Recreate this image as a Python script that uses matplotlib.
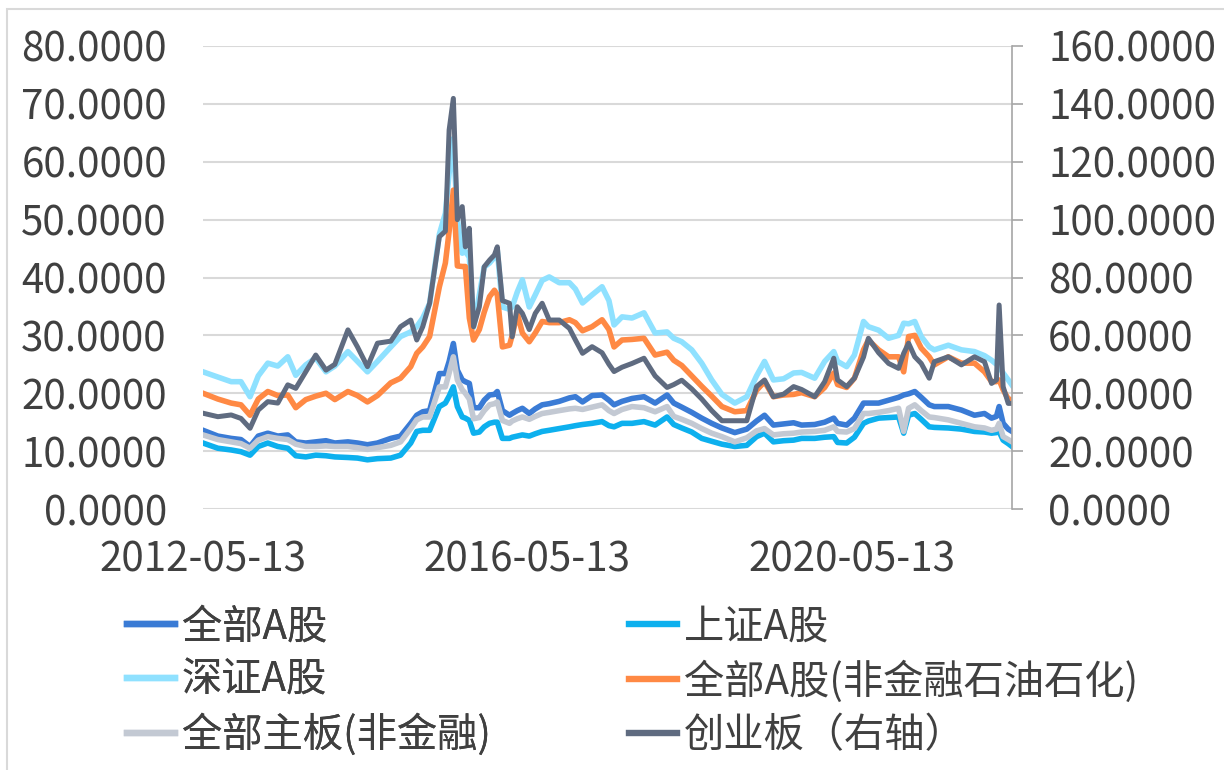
import matplotlib.pyplot as plt
import matplotlib.patches as mpatches
import pandas as pd

plt.rcParams['font.family'] = ['Noto Sans CJK SC', 'DejaVu Sans']

# sample dates
dates = ['2012-05-13', '2012-07-19', '2012-09-17', '2012-10-31', '2012-12-11',
         '2013-01-17', '2013-03-01', '2013-04-15', '2013-05-30', '2013-07-05',
         '2013-08-19', '2013-10-03', '2013-11-18', '2013-12-28', '2014-02-25',
         '2014-04-09', '2014-05-24', '2014-07-08', '2014-09-06', '2014-10-20',
         '2014-12-05', '2015-01-01', '2015-01-28', '2015-02-28', '2015-04-13',
         '2015-05-10', '2015-05-27', '2015-06-15', '2015-07-03', '2015-07-25',
         '2015-08-08', '2015-08-26', '2015-09-14', '2015-10-10', '2015-11-01',
         '2015-11-25', '2015-12-17', '2015-12-30', '2016-01-22', '2016-02-23',
         '2016-03-06', '2016-03-29', '2016-04-21', '2016-05-22', '2016-06-18',
         '2016-07-19', '2016-08-20', '2016-10-04', '2016-11-19', '2016-12-16',
         '2017-01-17', '2017-03-01', '2017-04-15', '2017-05-16', '2017-06-08',
         '2017-07-14', '2017-08-28', '2017-10-21', '2017-12-10', '2018-02-02',
         '2018-03-04', '2018-04-09', '2018-05-24', '2018-07-08', '2018-08-22',
         '2018-10-07', '2018-12-04', '2019-01-27', '2019-03-12', '2019-04-17',
         '2019-05-27', '2019-07-12', '2019-08-26', '2019-10-01', '2019-11-29',
         '2020-01-13', '2020-02-23', '2020-03-11', '2020-04-21', '2020-05-26',
         '2020-07-06', '2020-07-28', '2020-09-12', '2020-10-27', '2020-12-11',
         '2021-01-03', '2021-01-25', '2021-02-22', '2021-03-23', '2021-04-28',
         '2021-05-21', '2021-07-23', '2021-09-20', '2021-11-18', '2022-01-02',
         '2022-02-03', '2022-02-25', '2022-03-09', '2022-03-27', '2022-04-19',
         '2022-05-06']

all_a = [13.6, 12.6, 12.2, 12.0, 10.8, 12.6, 13.1, 12.6, 12.8, 11.6,
         11.4, 11.6, 11.8, 11.4, 11.6, 11.4, 11.1, 11.4, 12.2, 12.6,
         14.8, 16.2, 16.8, 17.0, 23.4, 23.4, 25.5, 28.6, 24.0, 22.3,
         22.0, 21.7, 17.5, 17.5, 18.8, 19.7, 19.8, 20.3, 17.0, 16.2,
         16.5, 17.0, 17.4, 16.5, 17.3, 18.0, 18.2, 18.6, 19.2, 19.4,
         18.5, 19.6, 19.7, 18.8, 18.0, 18.6, 19.1, 19.4, 18.3, 19.7,
         18.3, 17.6, 16.7, 15.7, 14.8, 14.0, 13.2, 13.8, 15.2, 16.2,
         14.5, 14.7, 14.9, 14.5, 14.6, 15.0, 15.7, 14.8, 14.5, 15.7,
         18.3, 18.3, 18.3, 18.8, 19.3, 19.7, 19.9, 20.3, 19.3, 18.0,
         17.7, 17.7, 17.1, 16.2, 16.5, 15.7, 16.0, 17.7, 14.8, 13.8,
         13.4]

sh_a = [11.4, 10.5, 10.2, 9.9, 9.3, 10.8, 11.4, 10.8, 10.5, 9.2,
        9.0, 9.3, 9.2, 9.0, 8.9, 8.8, 8.5, 8.7, 8.8, 9.3,
        11.4, 13.4, 13.6, 13.6, 17.7, 18.3, 19.5, 21.1, 17.7, 15.9,
        15.7, 15.3, 13.1, 13.3, 14.2, 14.8, 15.0, 15.0, 12.2, 12.2,
        12.4, 12.6, 12.8, 12.6, 13.0, 13.4, 13.6, 13.9, 14.2, 14.4,
        14.6, 14.8, 15.1, 14.4, 14.2, 14.8, 14.8, 15.1, 14.5, 15.9,
        14.6, 14.0, 13.3, 12.2, 11.7, 11.2, 10.8, 11.0, 12.5, 13.1,
        11.6, 11.8, 11.9, 12.2, 12.2, 12.4, 12.5, 11.5, 11.4, 12.4,
        14.8, 15.2, 15.7, 15.8, 15.9, 13.1, 16.2, 16.5, 15.5, 14.2,
        14.1, 14.0, 13.8, 13.4, 13.3, 13.1, 13.2, 13.4, 11.9, 11.3,
        10.8]

sz_a = [23.7, 22.8, 22.0, 22.0, 19.4, 23.0, 25.2, 24.7, 26.3, 23.1,
        24.9, 26.1, 23.7, 24.7, 27.2, 25.5, 23.7, 25.5, 28.0, 29.8,
        30.6, 31.5, 33.0, 35.5, 47.5, 51.1, 58.0, 64.0, 50.0, 44.2,
        44.5, 43.5, 31.4, 37.0, 41.8, 42.5, 43.5, 44.7, 34.9, 34.5,
        34.9, 37.5, 39.6, 34.9, 37.0, 39.5, 40.1, 39.1, 39.1, 38.0,
        35.6, 37.0, 38.4, 36.0, 31.8, 33.2, 33.0, 33.9, 30.4, 30.6,
        29.5, 28.9, 27.5, 25.2, 22.3, 19.8, 18.3, 19.4, 23.0, 25.5,
        22.3, 22.5, 23.5, 23.6, 22.6, 25.5, 27.2, 25.5, 24.6, 26.6,
        32.4, 31.5, 30.9, 29.5, 30.0, 32.1, 32.0, 32.4, 29.8, 28.0,
        27.5, 28.3, 27.5, 27.2, 26.5, 25.7, 25.0, 24.6, 23.5, 22.3,
        21.4]

non_fin_oil = [20.0, 19.0, 18.3, 18.0, 16.2, 19.0, 20.3, 19.6, 19.7, 17.5,
               18.9, 19.5, 20.0, 18.9, 20.3, 19.6, 18.5, 19.6, 21.8, 22.6,
               24.6, 26.9, 28.0, 29.8, 38.4, 42.5, 48.0, 55.1, 42.0, 41.9,
               41.9, 33.0, 29.2, 31.0, 34.0, 36.7, 37.8, 37.0, 28.0, 28.3,
               30.0, 33.8, 30.4, 28.9, 30.4, 32.4, 32.2, 32.2, 32.7, 32.2,
               30.8, 31.5, 32.7, 31.0, 28.0, 29.2, 29.3, 29.5, 26.6, 27.1,
               25.7, 24.8, 23.0, 21.2, 19.5, 17.7, 16.8, 17.0, 20.5, 22.0,
               19.4, 19.7, 19.8, 20.1, 19.4, 21.0, 23.5, 21.5, 21.0, 22.6,
               27.5, 29.2, 27.5, 26.3, 26.3, 23.7, 29.8, 30.0, 27.8, 26.3,
               24.9, 26.3, 25.2, 25.2, 23.7, 22.0, 22.0, 22.3, 20.6, 19.0,
               18.9]

main_non_fin = [12.8, 12.0, 11.6, 11.3, 10.5, 11.9, 12.5, 12.2, 12.0, 11.2,
                10.8, 10.8, 10.9, 10.8, 10.8, 10.6, 10.3, 10.6, 11.0, 11.6,
                13.9, 15.4, 15.9, 15.9, 21.1, 21.1, 23.5, 26.3, 22.3, 20.6,
                20.0, 19.0, 15.6, 15.8, 17.0, 18.0, 18.2, 18.5, 15.3, 14.8,
                15.2, 15.6, 15.9, 15.5, 16.0, 16.5, 16.7, 17.0, 17.3, 17.4,
                17.2, 17.6, 18.0, 17.0, 16.5, 17.2, 17.7, 17.5, 16.8, 17.7,
                16.0, 15.5, 14.8, 13.9, 13.1, 12.5, 11.6, 12.3, 13.5, 13.9,
                12.8, 13.0, 13.1, 13.3, 13.4, 13.6, 14.2, 13.4, 13.3, 13.9,
                16.5, 16.5, 16.7, 17.0, 17.4, 13.4, 17.4, 18.0, 17.0, 15.9,
                15.8, 15.4, 14.8, 14.2, 14.0, 13.6, 13.8, 14.8, 12.5, 12.0,
                11.6]

# ChiNext, right axis
chinext = [33.1, 31.9, 32.5, 31.3, 27.9, 34.2, 37.1, 36.6, 42.9, 41.7,
           47.4, 53.2, 48.0, 50.0, 61.9, 56.0, 49.2, 57.3, 58.0, 63.0,
           65.3, 58.4, 63.0, 71.1, 94.1, 96.0, 131.0, 141.9, 100.0, 104.5,
           90.6, 97.0, 63.0, 69.9, 83.7, 86.0, 87.8, 90.6, 72.0, 71.1,
           59.5, 69.9, 67.6, 62.0, 67.6, 71.1, 65.3, 65.3, 62.4, 58.4,
           53.8, 56.1, 54.0, 50.0, 47.5, 49.0, 50.3, 52.1, 46.0, 42.0,
           43.0, 44.5, 41.5, 38.0, 34.0, 30.5, 30.5, 30.5, 42.3, 44.6,
           38.8, 39.7, 42.3, 41.3, 38.8, 44.0, 52.1, 44.6, 42.3, 45.2,
           52.5, 59.0, 54.0, 50.3, 48.6, 53.8, 57.3, 52.6, 50.3, 45.2,
           50.9, 52.6, 49.8, 52.6, 50.9, 43.4, 44.6, 70.5, 42.3, 36.5,
           36.5]

labels = ['全部A股', '上证A股', '深证A股', '全部A股(非金融石油石化)',
          '全部主板(非金融)', '创业板（右轴）']
colors = ['#3A7BD5', '#0DB0EE', '#8FE1FF', '#FF8944', '#C3C9D3', '#5F6B80']
xticks = ['2012-05-13', '2016-05-13', '2020-05-13']

x = pd.to_datetime(dates)
txt = '#404040'
fs = 29

fig = plt.figure(figsize=(12.24, 7.70), dpi=100)
ax = fig.add_axes([203/1224, 1-509/770, (1012-203)/1224, (509-46)/770])
ax2 = ax.twinx()

lines = []
for vals, c, lab in zip([all_a, sh_a, sz_a, non_fin_oil, main_non_fin], colors[:5], labels[:5]):
    l, = ax.plot(x, vals, color=c, lw=4.0, label=lab, solid_joinstyle='round')
    lines.append(l)
l, = ax2.plot(x, chinext, color=colors[5], lw=3.6, label=labels[5], solid_joinstyle='round')
lines.append(l)

ax.set_xlim(x[0], x[-1])
ax.set_ylim(0, 80)
ax.set_yticks(range(0, 81, 10))
ax.set_yticklabels(['%.4f' % v for v in range(0, 81, 10)], fontsize=fs, color=txt)
ax.tick_params(axis='y', length=0, pad=26)
ax.grid(axis='y', color='#D9D9D9', lw=1.5)
ax.set_axisbelow(True)
ax.set_xticks(pd.to_datetime(xticks))
ax.set_xticklabels(xticks, fontsize=fs, color=txt)
ax.tick_params(axis='x', length=0, pad=22)
for s in ax.spines.values():
    s.set_visible(False)

ax2.set_ylim(0, 160)
ax2.set_yticks(range(0, 161, 20))
ax2.set_yticklabels(['%.4f' % v for v in range(0, 161, 20)], fontsize=fs, color=txt)
ax2.tick_params(axis='y', length=8, width=1.2, color='#A6A6A6', pad=18)
for k in ['top', 'left', 'bottom']:
    ax2.spines[k].set_visible(False)
ax2.spines['right'].set_color('#A6A6A6')
ax2.spines['right'].set_linewidth(1.2)

# legend: two columns, row-major like the original
leg_kw = dict(frameon=False, fontsize=fs, handlelength=1.2, handletextpad=0.15,
              labelspacing=0.32, borderpad=0, labelcolor=txt)
leg1 = fig.legend([lines[0], lines[2], lines[4]], [labels[0], labels[2], labels[4]],
                  loc='upper left', bbox_to_anchor=(107/1224, 1-586/770), **leg_kw)
fig.add_artist(leg1)
leg2 = fig.legend([lines[1], lines[3], lines[5]], [labels[1], labels[3], labels[5]],
                  loc='upper left', bbox_to_anchor=(609/1224, 1-586/770), **leg_kw)
for lg in (leg1, leg2):
    for h in lg.legend_handles:
        h.set_linewidth(4.6)

# chart frame
fig.add_artist(mpatches.Rectangle((7/1224, -0.1), 1.2, 1.1-9/770, transform=fig.transFigure,
                                  fill=False, edgecolor='#D9D9D9', lw=1.5))

fig.savefig('out.png', dpi=100)
